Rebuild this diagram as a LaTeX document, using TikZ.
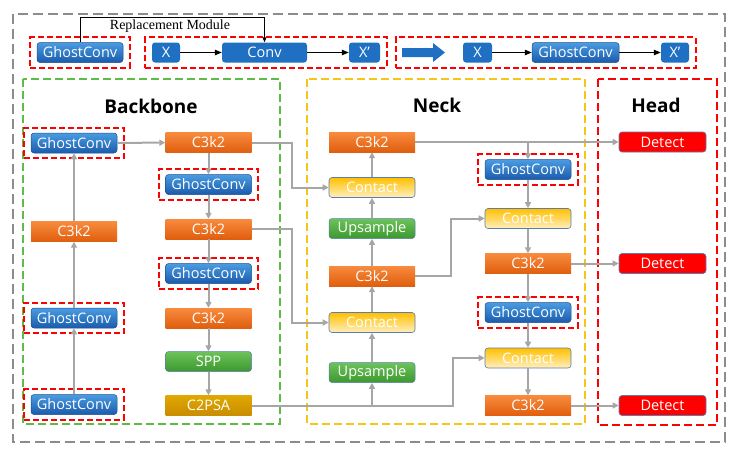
\documentclass[tikz,border=0pt]{standalone}
\usepackage{fontspec}
\setmainfont{Open Sans}
\newfontfamily\labelrm{Liberation Serif}
\usepackage{tikz}
\usetikzlibrary{positioning, arrows.meta, calc, fit}

\definecolor{ghosttop}{HTML}{4A9CE2}
\definecolor{ghostbot}{HTML}{1A5BAC}
\definecolor{ghostline}{HTML}{1D4F8E}
\definecolor{flatblue}{HTML}{1F70C2}
\definecolor{orangetop}{HTML}{F88B3E}
\definecolor{orangebot}{HTML}{E05E0E}
\definecolor{greentop}{HTML}{6CC35A}
\definecolor{greenbot}{HTML}{3C982E}
\definecolor{contactyel}{HTML}{FFC000}
\definecolor{psatop}{HTML}{E0A800}
\definecolor{psabot}{HTML}{C98C00}
\definecolor{slateline}{HTML}{5B7DB1}
\definecolor{flowgray}{HTML}{A6A6A6}
\definecolor{framegray}{HTML}{8C8C8C}
\definecolor{backgreen}{HTML}{5DBB46}
\definecolor{neckyel}{HTML}{F5C518}

\tikzset{
    block/.style={minimum width=86, minimum height=20, inner sep=0,
        text=white, font=\fontsize{14.5}{16}\selectfont},
    ghost/.style={block, rounded corners=3, top color=ghosttop,
        bottom color=ghostbot, draw=ghostline, line width=0.5},
    flatbox/.style={block, rounded corners=3, fill=flatblue},
    cblock/.style={block, top color=orangetop, bottom color=orangebot},
    upblock/.style={block, rounded corners=3, top color=greentop,
        bottom color=greenbot, draw=slateline, line width=0.5},
    contact/.style={block, rounded corners=3, top color=contactyel,
        middle color=contactyel, bottom color=contactyel!25,
        draw=slateline, line width=0.6},
    psa/.style={block, top color=psatop, bottom color=psabot},
    detect/.style={block, rounded corners=3, fill=red, draw=slateline,
        line width=0.6},
    redbox/.style={draw=red, dash pattern=on 6 off 3, line width=2,
        inner xsep=6.5, inner ysep=5},
    flow/.style={draw=flowgray, line width=2,
        -{Triangle[length=6, width=6]}},
    blackflow/.style={draw=black, line width=1.1,
        -{Triangle[length=7, width=5.5]}},
    title/.style={font=\bfseries\fontsize{19}{21}\selectfont}
}

\begin{document}
\begin{tikzpicture}[x=1pt, y=-1pt]
    \useasboundingbox (0,0) rectangle (743,455);

    % frames
    \draw[framegray, line width=2, dash pattern=on 10 off 5]
        (13,14) rectangle (725,442);
    \draw[backgreen, line width=1.4, dash pattern=on 8 off 4]
        (23,79) rectangle (280,424);
    \draw[neckyel, line width=1.4, dash pattern=on 8 off 4]
        (307,79) rectangle (585,424);
    \draw[red, line width=1.4, dash pattern=on 8 off 4]
        (598,79) rectangle (717,425);

    \node[title] (tbb) at (151,106) {Backbone};
    \node[title] (tneck) at (437,105) {Neck};
    \node[title] (thead) at (656,105) {Head};

    % replacement row
    \node[ghost] (tg1) at (80,52.5) {GhostConv};
    \node[flatbox, minimum width=28] (tx1) at (166,52.5) {X};
    \node[flatbox, minimum width=85] (tconv) at (264.5,52.5) {Conv};
    \node[flatbox, minimum width=31] (txp1) at (364.5,52.5) {X'};
    \node[flatbox, minimum width=29] (tx2) at (477.5,52.5) {X};
    \node[ghost, minimum width=87] (tg2) at (575.5,52.5) {GhostConv};
    \node[flatbox, minimum width=28] (txp2) at (675,52.5) {X'};

    \coordinate (rtop) at (80,17);
    \coordinate (atail) at (402,52.5);
    \draw[black, line width=1, -{Triangle[length=5, width=4]}]
        (tg1.north) -- (rtop) -| (tconv.north);
    \node[font=\labelrm\fontsize{14}{16}\selectfont] (rlab) at (170,26)
        {Replacement Module};

    \foreach \a/\b in {tx1/tconv, tconv/txp1, tx2/tg2, tg2/txp2}
    {
        \draw[blackflow] (\a) -- (\b);
    }

    \fill[flatblue] (402,48) -- (433,48) -- (433,43) -- (445,52.5)
        -- (433,62) -- (433,57) -- (402,57) -- cycle;

    % backbone
    \node[ghost] (bg1) at (74,143) {GhostConv};
    \node[cblock] (bc1) at (74,231.5) {C3k2};
    \node[ghost] (bg2) at (74,318) {GhostConv};
    \node[ghost] (bg3) at (74,404.5) {GhostConv};

    \node[cblock] (b1) at (208.5,142.5) {C3k2};
    \node[ghost] (bg4) at (208.5,184.5) {GhostConv};
    \node[cblock] (b2) at (208.5,229) {C3k2};
    \node[ghost] (bg5) at (208.5,273.5) {GhostConv};
    \node[cblock] (b3) at (208.5,318) {C3k2};
    \node[upblock] (spp) at (208.5,361.5) {SPP};
    \node[psa] (c2psa) at (208.5,405.5) {C2PSA};

    % neck
    \node[cblock] (n1) at (372,142) {C3k2};
    \node[contact] (nc1) at (372,187.5) {Contact};
    \node[upblock] (nu1) at (372,228.5) {Upsample};
    \node[cblock] (n2) at (372,276) {C3k2};
    \node[contact] (nc2) at (372,322.5) {Contact};
    \node[upblock] (nu2) at (372,372.5) {Upsample};

    \node[ghost] (ng1) at (528,169.5) {GhostConv};
    \node[contact] (nc3) at (528,218.5) {Contact};
    \node[cblock] (n3) at (528,263.5) {C3k2};
    \node[ghost] (ng2) at (528,312.5) {GhostConv};
    \node[contact] (nc4) at (528,358) {Contact};
    \node[cblock] (n4) at (528,405.5) {C3k2};

    % head
    \node[detect, minimum width=87] (d1) at (662.5,142) {Detect};
    \node[detect, minimum width=87] (d2) at (662.5,263.5) {Detect};
    \node[detect, minimum width=87] (d3) at (662.5,405.5) {Detect};

    % replaced modules
    \foreach \n in {tg1, bg1, bg2, bg3, bg4, bg5, ng1, ng2}
    {
        \node[redbox, fit=(\n)] {};
    }
    \node[redbox, fit=(tx1)(txp1)] (rrow1) {};
    \node[redbox, fit=(atail)(txp2)] (rrow2) {};

    % flows
    \foreach \a/\b in {bg3/bg2, bg2/bc1, bc1/bg1, bg1/b1,
        b1/bg4, bg4/b2, b2/bg5, bg5/b3, b3/spp, spp/c2psa,
        nu2/nc2, nc2/n2, n2/nu1, nu1/nc1, nc1/n1,
        ng1/nc3, nc3/n3, n3/ng2, ng2/nc4, nc4/n4,
        n1/d1, n3/d2, n4/d3}
    {
        \draw[flow] (\a) -- (\b);
    }

    \draw[flow] (b1.east) -- ++(40,0) |- (nc1.west);
    \draw[flow] (b2.east) -- ++(40,0) |- (nc2.west);
    \draw[flow] (n2.east) -- ++(36,0) |- (nc3.west);
    \draw[flow] (c2psa.east) -- ++(201,0) |- (nc4.west);
    \draw[flow] (nu2.south |- c2psa.east) -- (nu2.south);
    \draw[flow] (ng1.north |- n1.east) -- (ng1.north);
\end{tikzpicture}
\end{document}
